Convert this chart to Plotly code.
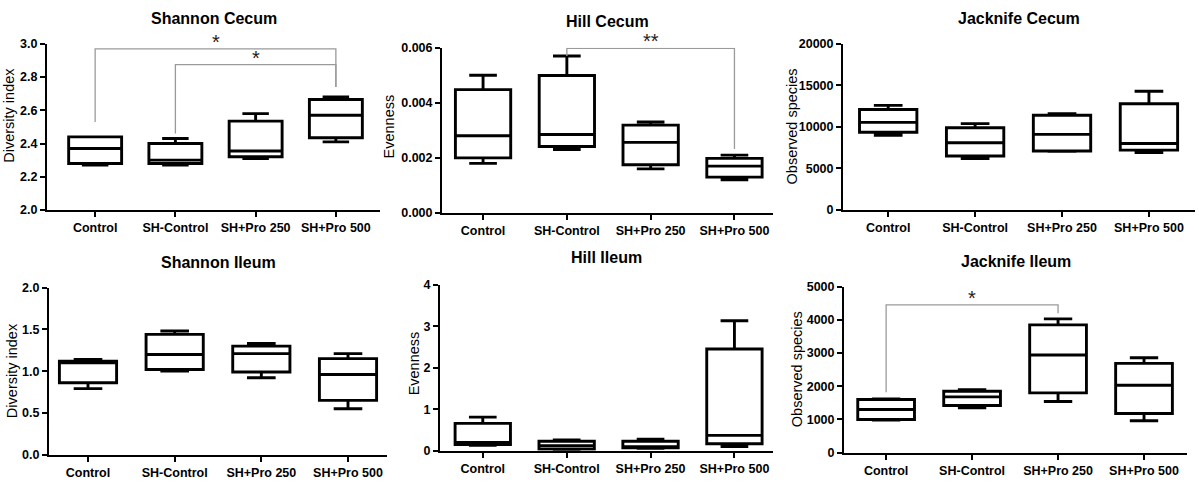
import plotly.graph_objects as go

# grupos
grupos = ["Control", "SH-Control", "SH+Pro 250", "SH+Pro 500"]
pos = [0, 1, 2, 3]

# Shannon Cecum: min, q1, mediana, q3, max
sc_min = [2.27, 2.27, 2.31, 2.41]
sc_q1 = [2.28, 2.28, 2.32, 2.435]
sc_med = [2.37, 2.30, 2.355, 2.57]
sc_q3 = [2.44, 2.40, 2.535, 2.665]
sc_max = [2.44, 2.43, 2.58, 2.68]

# Hill Cecum
hc_min = [0.0018, 0.0023, 0.0016, 0.0012]
hc_q1 = [0.0020, 0.00241, 0.00175, 0.0013]
hc_med = [0.0028, 0.00285, 0.00256, 0.0017]
hc_q3 = [0.00448, 0.00499, 0.00319, 0.00198]
hc_max = [0.0050, 0.0057, 0.0033, 0.0021]

# Jacknife Cecum
jc_min = [9000, 6200, 7050, 6900]
jc_q1 = [9350, 6500, 7100, 7200]
jc_med = [10550, 8100, 9100, 8000]
jc_q3 = [12100, 9900, 11400, 12800]
jc_max = [12600, 10400, 11600, 14300]

# Shannon Ileum
si_min = [0.79, 1.00, 0.92, 0.55]
si_q1 = [0.86, 1.02, 0.99, 0.65]
si_med = [1.10, 1.20, 1.21, 0.96]
si_q3 = [1.12, 1.44, 1.30, 1.15]
si_max = [1.14, 1.48, 1.33, 1.21]

# Hill Ileum
hi_min = [0.13, 0.02, 0.06, 0.10]
hi_q1 = [0.15, 0.04, 0.07, 0.17]
hi_med = [0.20, 0.12, 0.10, 0.37]
hi_q3 = [0.66, 0.23, 0.23, 2.45]
hi_max = [0.81, 0.26, 0.28, 3.13]

# Jacknife Ileum
ji_min = [980, 1350, 1540, 960]
ji_q1 = [1000, 1420, 1800, 1180]
ji_med = [1300, 1680, 2940, 2030]
ji_q3 = [1600, 1850, 3850, 2690]
ji_max = [1620, 1900, 4030, 2860]

titulos = ["Shannon Cecum", "Hill Cecum", "Jacknife Cecum",
           "Shannon Ileum", "Hill Ileum", "Jacknife Ileum"]
ytitulos = ["Diversity index", "Evenness", "Observed species",
            "Diversity index", "Evenness", "Observed species"]

# rangos y ticks de los ejes y
yrangos = [[2.0, 3.0], [0, 0.006], [0, 20000], [0, 2.0], [0, 4], [0, 5000]]
ydticks = [0.2, 0.002, 5000, 0.5, 1, 1000]
yformatos = [".1f", ".3f", "d", ".1f", "d", "d"]

# significancia: panel, grupo a, grupo b, altura, fin pata a, fin pata b, texto
sig_panel = [1, 1, 2, 6]
sig_a = [0, 1, 1, 0]
sig_b = [3, 3, 3, 2]
sig_alto = [2.97, 2.875, 0.00598, 4450]
sig_pata_a = [2.53, 2.46, 0.0057, 1820]
sig_pata_b = [2.74, 2.74, 0.00232, 4200]
sig_texto = ["*", "*", "**", "*"]

datos = [
    (sc_min, sc_q1, sc_med, sc_q3, sc_max),
    (hc_min, hc_q1, hc_med, hc_q3, hc_max),
    (jc_min, jc_q1, jc_med, jc_q3, jc_max),
    (si_min, si_q1, si_med, si_q3, si_max),
    (hi_min, hi_q1, hi_med, hi_q3, hi_max),
    (ji_min, ji_q1, ji_med, ji_q3, ji_max),
]

W, H = 1199, 483
# areas de cada panel en pixeles: x0, x1, ytop, ybottom
areas = [
    (47, 380, 38, 209),
    (442, 773, 42, 212),
    (843, 1195, 38, 209),
    (49, 387, 289, 461),
    (440, 773, 286, 457),
    (844, 1187, 288, 459),
]
xrangos = [[-0.6, 3.55], [-0.49, 3.46], [-0.52, 3.53],
           [-0.45, 3.45], [-0.51, 3.46], [-0.49, 3.5]]
titulo_y = [12, 15, 12, 263, 258, 262]
ytit_x = [9, 389, 792, 12, 414, 797]
ytit_y = [112, 123, 123, 375, 367, 373]

fuente = "Liberation Sans, Arial, sans-serif"

fig = go.Figure()
layout = dict(
    width=W, height=H,
    margin=dict(l=0, r=0, t=0, b=0),
    paper_bgcolor="white", plot_bgcolor="white",
    showlegend=False,
    font=dict(family=fuente, color="black"),
)
anotaciones = []
formas = []

for i in range(6):
    n = i + 1
    sfx = "" if n == 1 else str(n)
    mn, q1, md, q3, mx = datos[i]
    fig.add_trace(go.Box(
        x=pos, q1=q1, median=md, q3=q3, lowerfence=mn, upperfence=mx,
        width=0.66, whiskerwidth=0.5, boxpoints=False,
        fillcolor="white", line=dict(color="black", width=2.9),
        xaxis="x" + sfx, yaxis="y" + sfx, hoverinfo="skip",
    ))
    x0, x1, yt, yb = areas[i]
    layout["xaxis" + sfx] = dict(
        domain=[x0 / W, x1 / W], anchor="y" + sfx, range=xrangos[i],
        tickvals=pos, ticktext=grupos, showline=True, linecolor="black",
        linewidth=2, ticks="outside", ticklen=5, tickwidth=2, tickcolor="black",
        showgrid=False, zeroline=False,
        tickfont=dict(family=fuente, size=12.5, color="black", weight="bold"),
    )
    layout["yaxis" + sfx] = dict(
        domain=[1 - yb / H, 1 - yt / H], anchor="x" + sfx, range=yrangos[i],
        dtick=ydticks[i], tick0=yrangos[i][0], tickformat=yformatos[i],
        showline=True, linecolor="black", linewidth=2, ticks="outside",
        ticklen=5, tickwidth=2, tickcolor="black", showgrid=False, zeroline=False,
        tickfont=dict(family=fuente, size=12.5, color="black", weight="bold"),
    )
    anotaciones.append(dict(
        text="<b>" + titulos[i] + "</b>", xref="paper", yref="paper",
        x=(x0 + x1) / 2 / W, y=1 - titulo_y[i] / H, showarrow=False,
        xanchor="center", yanchor="middle",
        font=dict(family=fuente, size=16, color="black"),
    ))
    anotaciones.append(dict(
        text=ytitulos[i], xref="paper", yref="paper", textangle=-90,
        x=ytit_x[i] / W, y=1 - ytit_y[i] / H, showarrow=False,
        xanchor="center", yanchor="middle",
        font=dict(family=fuente, size=14.5, color="black"),
    ))

for k in range(len(sig_panel)):
    n = sig_panel[k]
    sfx = "" if n == 1 else str(n)
    xa, xb = sig_a[k], sig_b[k]
    formas.append(dict(
        type="path", xref="x" + sfx, yref="y" + sfx,
        path="M %s,%s L %s,%s L %s,%s L %s,%s" % (
            xa, sig_pata_a[k], xa, sig_alto[k], xb, sig_alto[k], xb, sig_pata_b[k]),
        line=dict(color="#9a9a9a", width=1.3),
    ))
    anotaciones.append(dict(
        text=sig_texto[k], xref="x" + sfx, yref="y" + sfx,
        x=(xa + xb) / 2, y=sig_alto[k], showarrow=False,
        xanchor="center", yanchor="bottom", yshift=-6,
        font=dict(family=fuente, size=20, color="#222222"),
    ))

layout["annotations"] = anotaciones
layout["shapes"] = formas
fig.update_layout(**layout)

fig.write_html("out.html",
               config={"displayModeBar": False},
               post_script="document.body.style.margin='0px';"
                           "document.body.style.overflow='hidden';")
